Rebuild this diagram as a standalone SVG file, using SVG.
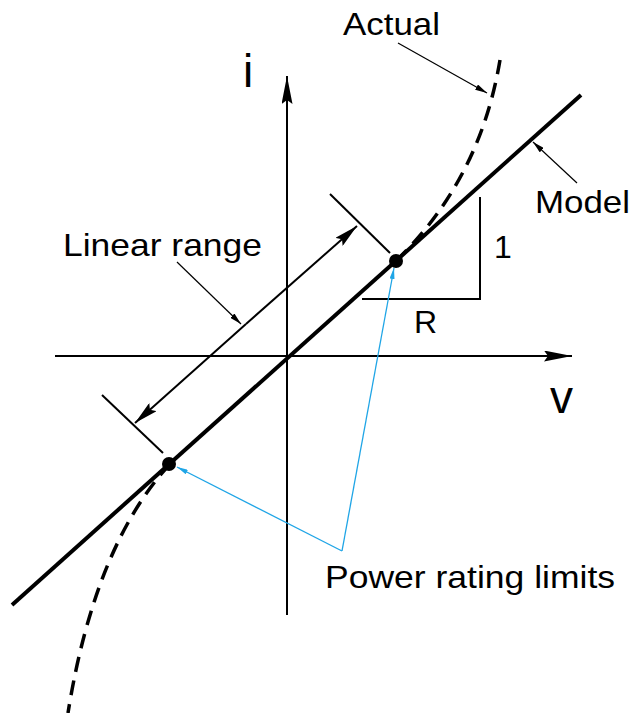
<svg xmlns="http://www.w3.org/2000/svg" width="634" height="713" viewBox="0 0 634 713">
<style>
text{font-family:"Liberation Sans",Arial,sans-serif;fill:#000}
.lbl{font-size:32px}
.ax{font-size:46px}
.thin{stroke:#000;stroke-width:2;fill:none}
.lead{stroke:#000;stroke-width:1.2;fill:none}
.blue{stroke:#1fa5e6;stroke-width:1.3;fill:none}
.dash{stroke:#000;stroke-width:3.5;fill:none;stroke-dasharray:15 9}
</style>
<defs>
<marker id="big" viewBox="0 0 28 11" refX="28" refY="5.5" markerWidth="28" markerHeight="11" markerUnits="userSpaceOnUse" orient="auto">
<path d="M0,0 L28,5.5 L0,11 L4,5.5 Z" fill="#000"/>
</marker>
<marker id="dim" viewBox="0 0 24 11" refX="24" refY="5.5" markerWidth="24" markerHeight="11" markerUnits="userSpaceOnUse" orient="auto">
<path d="M0,0 L24,5.5 L0,11 L4,5.5 Z" fill="#000"/>
</marker>
<marker id="sm" viewBox="0 0 12 6" refX="12" refY="3" markerWidth="12" markerHeight="6" markerUnits="userSpaceOnUse" orient="auto">
<path d="M0,0 L12,3 L0,6 Z" fill="#000"/>
</marker>
<marker id="bl" viewBox="0 0 11 5" refX="11" refY="2.5" markerWidth="11" markerHeight="5" markerUnits="userSpaceOnUse" orient="auto">
<path d="M0,0 L11,2.5 L0,5 Z" fill="#1fa5e6"/>
</marker>
</defs>

<g id="axes">
<line class="thin" x1="287" y1="615" x2="287" y2="76" marker-end="url(#big)"/>
<line class="thin" x1="55" y1="356" x2="572" y2="356" marker-end="url(#big)"/>
<text class="ax" x="243" y="87">i</text>
<text class="ax" x="550" y="413">v</text>
</g>

<g id="actual-curve">
<path class="dash" d="M396,261 Q480,180 500,60"/>
<path class="dash" d="M170,464 Q95,545 68,713"/>
</g>

<g id="model-line">
<line x1="12" y1="605" x2="581" y2="95" stroke="#000" stroke-width="4"/>
</g>

<g id="limits">
<circle cx="396" cy="261" r="7" fill="#000"/>
<circle cx="169" cy="464" r="7" fill="#000"/>
</g>

<g id="slope">
<polyline class="thin" points="362,299 480,299 480,197"/>
<text class="lbl" x="494" y="258">1</text>
<text class="lbl" x="414" y="333">R</text>
</g>

<g id="connectors">
<line class="thin" x1="330" y1="194" x2="390" y2="253"/>
<line class="thin" x1="102" y1="395" x2="163" y2="453"/>
<line class="thin" x1="246" y1="324" x2="357" y2="226" marker-end="url(#dim)"/>
<line class="thin" x1="246" y1="324" x2="135" y2="423" marker-end="url(#dim)"/>
<line class="lead" x1="177" y1="262" x2="241" y2="324" marker-end="url(#sm)"/>
<line class="lead" x1="398" y1="43" x2="487" y2="93" marker-end="url(#sm)"/>
<line class="lead" x1="577" y1="183" x2="533" y2="142" marker-end="url(#sm)"/>
<line class="blue" x1="342" y1="551" x2="394" y2="268" marker-end="url(#bl)"/>
<line class="blue" x1="342" y1="551" x2="177" y2="467" marker-end="url(#bl)"/>
</g>

<g id="labels">
<text class="lbl" x="343" y="35" textLength="97" lengthAdjust="spacingAndGlyphs">Actual</text>
<text class="lbl" x="535" y="213" textLength="95" lengthAdjust="spacingAndGlyphs">Model</text>
<text class="lbl" x="63" y="256" textLength="199" lengthAdjust="spacingAndGlyphs">Linear range</text>
<text class="lbl" x="325" y="588" textLength="290" lengthAdjust="spacingAndGlyphs">Power rating limits</text>
</g>
</svg>
